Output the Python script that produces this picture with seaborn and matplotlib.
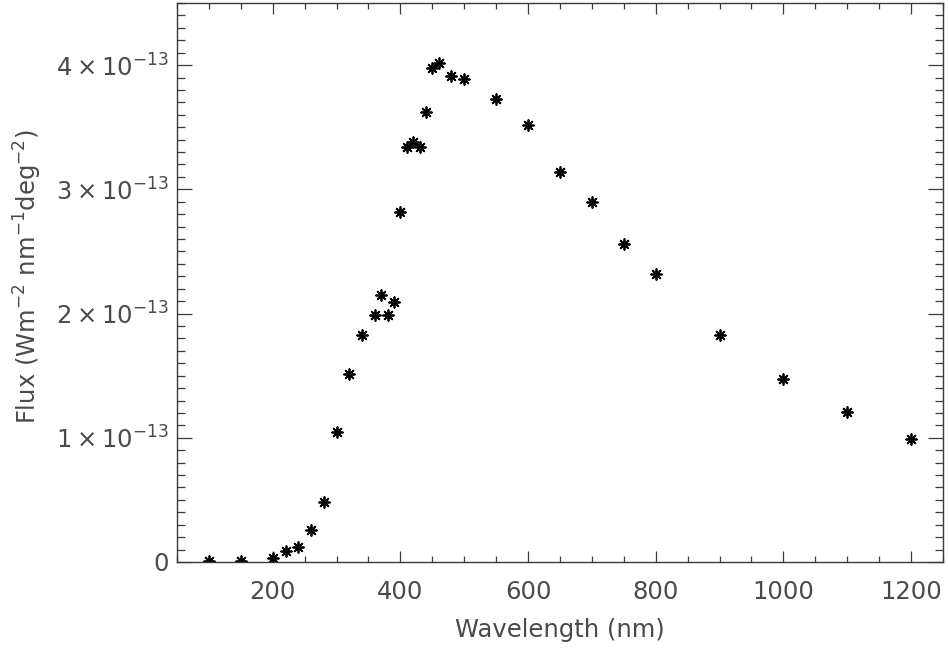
#!/usr/bin/env python3

import matplotlib
matplotlib.use("Agg")
import matplotlib.pyplot as plt
from matplotlib.ticker import MultipleLocator, FixedLocator, FuncFormatter
import pandas as pd
import seaborn as sns

# ======================================================
# DATA
# ======================================================
wavelength_nm = [
    100, 150, 200, 220, 240, 260, 280, 300, 320, 340,
    360, 370, 380, 390, 400, 410, 420, 430, 440, 450,
    460, 480, 500, 550, 600, 650, 700, 750, 800, 900,
    1000, 1100, 1200,
]
flux_e13 = [
    0.01, 0.01, 0.03, 0.09, 0.12, 0.26, 0.48, 1.05, 1.51, 1.83,
    1.99, 2.15, 1.99, 2.09, 2.82, 3.34, 3.38, 3.34, 3.62, 3.98,
    4.02, 3.91, 3.89, 3.73, 3.52, 3.14, 2.90, 2.56, 2.32, 1.83,
    1.47, 1.21, 0.99,
]
y_ticks_e13 = [0, 1, 2, 3, 4]

TEXT_COLOR = "#4a4a4a"
AXIS_COLOR = "#3a3a3a"
FS = 17.5

# ======================================================
# HELPERS
# ======================================================
def flux_label(v, pos):
    k = int(round(v / 1e-13))
    if k == 0:
        return "0"
    return rf"${k}\times10^{{-13}}$"

# ======================================================
# PLOTTING
# ======================================================
def make_plot(df):
    sns.set_style("ticks")
    plt.rcParams["font.family"] = ["DejaVu Sans"]
    plt.rcParams["mathtext.fontset"] = "dejavusans"
    plt.rcParams["mathtext.default"] = "regular"

    fig = plt.figure(figsize=(9.48, 6.5), dpi=100)
    ax = fig.add_axes([0.1867, 0.1354, 0.8080, 0.8600])

    sns.scatterplot(
        data=df,
        x="Wavelength",
        y="Flux",
        marker=(8, 2, 0),
        color="black",
        s=60,
        linewidth=1.3,
        ax=ax,
        legend=False,
    )

    ax.set_xlim(50, 1250)
    ax.set_ylim(0, 4.5e-13)

    # ---- ticks, IDL style: inward, on all four sides ----
    ax.xaxis.set_major_locator(MultipleLocator(200))
    ax.xaxis.set_minor_locator(MultipleLocator(50))
    ax.yaxis.set_major_locator(FixedLocator([v * 1e-13 for v in y_ticks_e13]))
    ax.yaxis.set_minor_locator(MultipleLocator(1e-14))
    ax.yaxis.set_major_formatter(FuncFormatter(flux_label))

    ax.tick_params(axis="both", which="both", direction="in",
                   top=True, right=True, color=AXIS_COLOR, width=0.9,
                   labelcolor=TEXT_COLOR, labelsize=FS)
    ax.tick_params(axis="x", which="major", length=8, pad=13)
    ax.tick_params(axis="x", which="minor", length=4)
    ax.tick_params(axis="y", which="major", length=11, pad=6)
    ax.tick_params(axis="y", which="minor", length=5.5)

    for sp in ax.spines.values():
        sp.set_visible(True)
        sp.set_color(AXIS_COLOR)
        sp.set_linewidth(1.0)

    ax.set_xlabel("Wavelength (nm)", fontsize=FS, color=TEXT_COLOR)
    ax.set_ylabel(r"Flux (Wm$^{-2}$ nm$^{-1}$deg$^{-2}$)", fontsize=FS,
                  color=TEXT_COLOR)
    ax.xaxis.set_label_coords(0.5, -0.100)
    ax.yaxis.set_label_coords(-0.195, 0.51)
    ax.yaxis.label.set_verticalalignment("center")

    fig.savefig("out.png", dpi=100)
    plt.close(fig)

# ======================================================
# MAIN
# ======================================================
def main():
    df = pd.DataFrame({
        "Wavelength": wavelength_nm,
        "Flux": [f * 1e-13 for f in flux_e13],
    })
    make_plot(df)


if __name__ == "__main__":
    main()
